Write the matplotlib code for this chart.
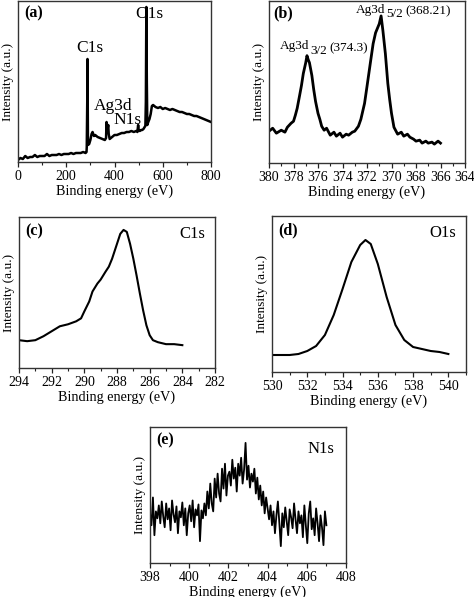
import numpy as np
import matplotlib
matplotlib.use("Agg")
import matplotlib.pyplot as plt
from matplotlib.ticker import MultipleLocator

plt.rcParams['font.family'] = ['Liberation Serif', 'DejaVu Serif']

# ---------------- data ----------------
# (a) survey spectrum
a_x = [0, 10, 20, 30, 40, 50, 60, 70, 80, 90, 100, 110, 120, 130, 140, 150, 160, 170, 180, 190,
       200, 210, 220, 230, 240, 250, 260, 270, 280, 284, 285, 287, 288, 289, 290, 295, 300, 305,
       309, 315, 320, 330, 340, 350, 360, 365, 367, 369, 372, 374, 376, 380, 390, 400, 410, 420,
       430, 440, 450, 460, 470, 480, 490, 495, 498, 500, 505, 510, 515, 520, 525, 528, 530, 532,
       534, 536, 540, 545, 550, 555, 560, 570, 580, 590, 600, 610, 620, 630, 640, 650, 660, 670,
       680, 690, 700, 710, 720, 730, 740, 750, 760, 770, 780, 790, 800]
a_y = [2, 4, 3, 6, 4, 5, 5, 7, 5, 6, 6, 6, 8, 6, 7, 7, 7, 8, 7, 8,
       8, 8, 9, 8, 9, 9, 9, 10, 9, 10, 15, 60, 103, 60, 17, 18, 22, 28,
       30, 26, 27, 25, 24, 23, 22, 24, 40, 30, 34, 37, 28, 23, 25, 27, 27, 28,
       29, 29, 30, 30, 31, 30, 31, 30, 37, 32, 31, 32, 32, 33, 35, 36, 60, 155,
       80, 37, 40, 43, 48, 56, 57, 55, 54, 55, 53, 54, 53, 52, 53, 52, 51, 50,
       50, 49, 48, 48, 47, 46, 46, 45, 44, 43, 42, 41, 40]

# (b) Ag3d
b_x = [380, 379.7, 379.4, 379, 378.7, 378.5, 378.2, 378, 377.85, 377.7, 377.5, 377.35, 377.2,
       377.0, 376.9, 376.8, 376.7, 376.5, 376.35, 376.2, 376.0, 375.85, 375.7, 375.5, 375.3,
       375.0, 374.7, 374.5, 374.2, 374.0, 373.7, 373.5, 373.2, 373.0, 372.7, 372.5, 372.35,
       372.2, 372.0, 371.85, 371.7, 371.5, 371.3, 371.1, 371.0, 370.85, 370.7, 370.5, 370.3,
       370.15, 370.0, 369.8, 369.5, 369.2, 369.0, 368.7, 368.5, 368.2, 368.0, 367.7, 367.5,
       367.2, 367.0, 366.7, 366.5, 366.2, 366.0]
b_y = [32, 35, 30, 33, 31, 36, 40, 42, 48, 55, 68, 78, 90,
       101, 108, 104, 101, 88, 74, 62, 50, 44, 37, 33, 35,
       28, 31, 27, 30, 26, 29, 28, 31, 32, 37, 44, 52,
       60, 77, 90, 103, 120, 131, 137, 140, 148, 133, 110, 80,
       64, 50, 36, 29, 31, 27, 29, 26, 24, 22, 23, 20,
       22, 20, 21, 19, 22, 20]

# (c) C1s
c_x = [294, 293.5, 293, 292.5, 292, 291.5, 291, 290.5, 290.2, 290, 289.7, 289.5, 289.2, 289,
       288.7, 288.5, 288.3, 288, 287.8, 287.6, 287.4, 287.2, 287, 286.8, 286.6, 286.4, 286.2,
       286, 285.8, 285.5, 285, 284.5, 284]
c_y = [28, 27, 28, 32, 37, 42, 44, 47, 50, 57, 67, 77, 85, 89,
       97, 102, 110, 125, 135, 139, 137, 125, 110, 93, 75, 58, 43,
       33, 28, 26, 24, 24, 23]

# (d) O1s
d_x = [530, 530.5, 531, 531.5, 532, 532.5, 533, 533.5, 534, 534.5, 535, 535.3, 535.6, 536,
       536.5, 537, 537.5, 538, 538.5, 539, 539.5, 540]
d_y = [17, 17, 17, 18, 21, 26, 37, 57, 83, 110, 127, 132, 128, 108,
       75, 47, 32, 25, 23, 21, 20, 18]

# (e) N1s
e_start, e_stop = 398.0, 407.0
e_y = [50, 38, 66, 28, 52, 45, 58, 40, 62, 47, 36, 60, 44, 55, 33, 63, 49, 41, 57, 30,
       52, 46, 61, 38, 55, 28, 50, 58, 42, 63, 36, 54, 48, 59, 22, 53, 45, 60,
       48, 72, 55, 80, 60, 52, 85, 66, 90, 70, 62, 95, 75, 100, 68, 88,
       92, 78, 104, 85, 96, 72, 100, 88, 106, 80, 94, 121, 84, 98, 76, 90,
       82, 95, 70, 86, 64, 78, 58, 72, 50, 66, 55,
       44, 58, 38, 52, 30, 48, 62, 40, 17, 50, 36, 56, 42, 28, 54, 46, 35, 60, 44, 30,
       52, 40, 48, 26, 58, 38, 20, 50, 62, 34, 45, 28, 55, 40, 22, 48, 36, 18, 52, 38]
e_x = np.linspace(e_start, e_stop, len(e_y))

# ---------------- figure ----------------
W, H = 474, 597
fig = plt.figure(figsize=(W / 100, H / 100), dpi=100)


def make_ax(l, t, r, b):
    return fig.add_axes([l / W, 1 - b / H, (r - l) / W, (b - t) / H])


def style(ax, xlim, ylim, major, minor, ticks=None):
    ax.set_xlim(*xlim)
    ax.set_ylim(*ylim)
    ax.set_yticks([])
    if ticks is not None:
        ax.set_xticks(ticks)
    else:
        ax.xaxis.set_major_locator(MultipleLocator(major))
    ax.xaxis.set_minor_locator(MultipleLocator(minor))
    ax.tick_params(axis='x', which='major', direction='out', length=3.5, width=0.9,
                   labelsize=10, pad=2, colors='#222222', labelcolor='black')
    ax.tick_params(axis='x', which='minor', direction='out', length=2, width=0.8,
                   colors='#222222')
    for s in ax.spines.values():
        s.set_linewidth(1.0)
        s.set_color('#333333')
    ax.set_xlabel('Binding energy (eV)', fontsize=10.2, labelpad=1)
    ax.set_ylabel('Intensity (a.u.)', fontsize=9.5, labelpad=3)


def chain(ax, x, y, parts, size):
    """Draw text pieces one after another; parts = [(text, dy_points), ...]."""
    first, dy0 = parts[0]
    prev = ax.text(x, y, first, fontsize=size, ha='left', va='baseline')
    for txt, dy in parts[1:]:
        prev = ax.annotate(txt, xy=(1, 0), xycoords=prev, xytext=(1, dy),
                           textcoords='offset points', fontsize=size,
                           ha='left', va='bottom')


# (a)
ax = make_ax(18, 1, 211, 162)
ax.plot(a_x, a_y, color='black', lw=1.8)
style(ax, (0, 800), (0, 161), 200, 100)
ax.text(0.03, 0.97, '(a)', transform=ax.transAxes, fontsize=11.5, fontweight='bold', va='top')
ax.text(298, 110, 'C1s', fontsize=12.5, ha='center')
ax.text(546, 144, 'O1s', fontsize=12.5, ha='center')
ax.text(394, 52, 'Ag3d', fontsize=12.5, ha='center')
ax.text(452, 38, 'N1s', fontsize=12.5, ha='center')

# (b)
ax = make_ax(269, 1, 465, 163)
ax.plot(b_x, b_y, color='black', lw=2.0)
style(ax, (380, 364), (0, 163), 2, 1, ticks=list(range(380, 363, -2)))
ax.text(0.02, 0.97, '(b)', transform=ax.transAxes, fontsize=11.5, fontweight='bold', va='top')
chain(ax, 379.1, 115, [('Ag3d', 0), ('3/2', -4), ('(374.3)', 2)], 9.5)
chain(ax, 372.9, 151, [('Ag3d', 0), ('5/2', -3), ('(368.21)', 2)], 9.5)

# (c)
ax = make_ax(19, 217, 215, 368)
ax.plot(c_x, c_y, color='black', lw=1.5)
style(ax, (294, 282), (0, 152), 2, 1, ticks=list(range(294, 281, -2)))
ax.text(0.03, 0.96, '(c)', transform=ax.transAxes, fontsize=11.5, fontweight='bold', va='top')
ax.text(0.95, 0.94, 'C1s', transform=ax.transAxes, fontsize=12, ha='right', va='top')

# (d)
ax = make_ax(272, 216, 466, 372)
ax.plot(d_x, d_y, color='black', lw=1.5)
style(ax, (530, 541), (0, 156), 2, 1, ticks=list(range(530, 541, 2)))
ax.text(0.03, 0.96, '(d)', transform=ax.transAxes, fontsize=11.5, fontweight='bold', va='top')
ax.text(0.95, 0.94, 'O1s', transform=ax.transAxes, fontsize=12, ha='right', va='top')

# (e)
ax = make_ax(150, 427, 346, 563)
ax.plot(e_x, e_y, color='black', lw=1.3)
style(ax, (398, 408), (0, 137), 2, 1, ticks=list(range(398, 409, 2)))
ax.text(0.03, 0.96, '(e)', transform=ax.transAxes, fontsize=11.5, fontweight='bold', va='top')
ax.text(0.94, 0.9, 'N1s', transform=ax.transAxes, fontsize=12, ha='right', va='top')

fig.savefig('out.png', dpi=100)
